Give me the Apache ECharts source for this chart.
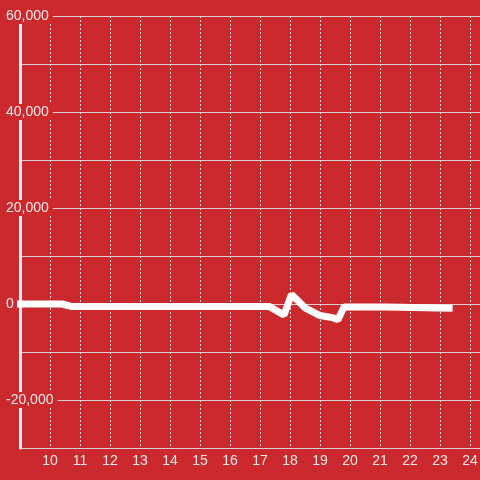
<!DOCTYPE html>
<html>
<head>
<meta charset="utf-8">
<script src="https://cdn.jsdelivr.net/npm/echarts@6/dist/echarts.min.js"></script>
<style>
  html, body { margin: 0; padding: 0; background: #cc292e; }
  #chart { width: 480px; height: 480px; }
</style>
</head>
<body>
<div id="chart"></div>
<script>
// hour of day -> value
const hours  = [8.9, 10.4, 10.7, 17.3, 17.8, 18.05, 18.5, 19.0, 19.45, 19.6, 19.8, 21.2, 21.25, 23.42];
const values = [0,   0,    -500, -500, -2300, 2000, -800, -2400, -2900, -3300, -600, -600, -900, -900];

const bg = '#cc292e';
const txt = '#f0eaea';
const font = 'Liberation Sans, Arial, sans-serif';

const chart = echarts.init(document.getElementById('chart'));
chart.setOption({
    backgroundColor: bg,
    animation: false,
    grid: { left: 20, right: -20, top: 16, bottom: 32, containLabel: false, outerBoundsMode: 'none' },
    xAxis: {
        type: 'value',
        min: 9,
        max: 25,
        interval: 1,
        axisLine: { show: false },
        axisTick: { show: false },
        axisLabel: {
            color: txt,
            fontSize: 14,
            fontFamily: font,
            margin: 6,
            showMinLabel: false,
        },
        splitLine: { lineStyle: { color: '#e6dede', type: [2, 2], width: 1 } },
    },
    yAxis: {
        type: 'value',
        min: -30000,
        max: 60000,
        interval: 10000,
        axisLine: { show: true, lineStyle: { color: '#f4f0f0', width: 3 } },
        axisTick: { show: false },
        axisLabel: {
            align: 'left',
            margin: 15,
            fontSize: 14,
            fontFamily: font,
            color: txt,
            formatter: (v) => (v % 20000 === 0 ? '{b|' + v.toLocaleString('en-US') + '}' : ''),
            rich: {
                b: { backgroundColor: bg, padding: [1, 4, 1, 1], color: txt, fontSize: 14, fontFamily: font },
            },
        },
        splitLine: { lineStyle: { color: '#d8d0d0', width: 1 } },
    },
    series: [
        {
            type: 'line',
            data: hours.map((h, i) => [h, values[i]]),
            showSymbol: false,
            clip: false,
            lineStyle: { color: '#ffffff', width: 7 },
        },
    ],
});
</script>
</body>
</html>
